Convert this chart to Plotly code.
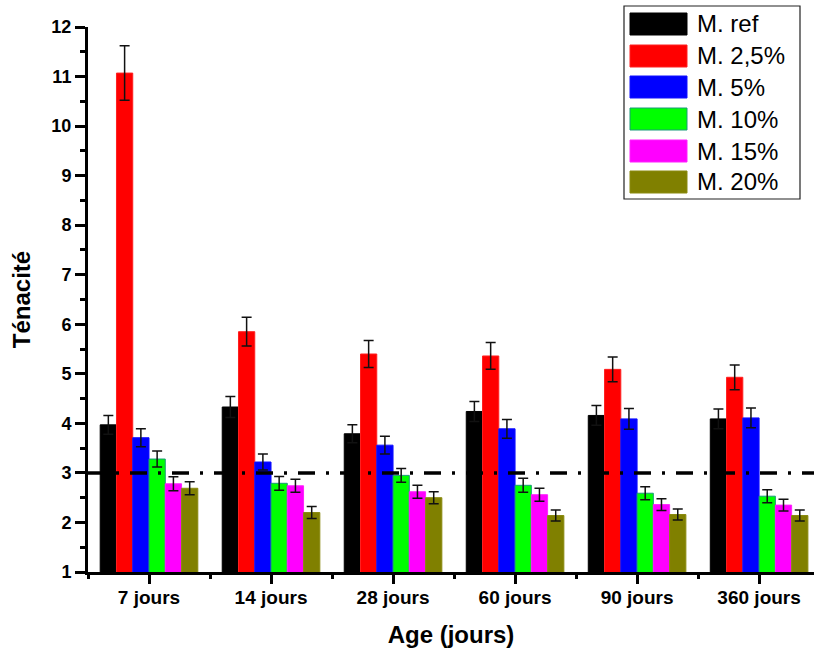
import plotly.graph_objects as go

# Ages (categories along x)
ages = ["7 jours", "14 jours", "28 jours", "60 jours", "90 jours", "360 jours"]

# Mixtures
series_names = ["M. ref", "M. 2,5%", "M. 5%", "M. 10%", "M. 15%", "M. 20%"]
series_colors = ["#000000", "#FF0000", "#0000FF", "#00FF00", "#FF00FF", "#808000"]
series_edges = ["#000000", "#FF2020", "#1010FF", "#1A9A7A", "#FF20FF", "#8A8A10"]

# Tenacity (mean) per mixture, one value per age
m_ref = [3.97, 4.33, 3.79, 4.24, 4.16, 4.09]
m_2_5 = [11.07, 5.85, 5.40, 5.36, 5.09, 4.93]
m_5 = [3.71, 3.22, 3.56, 3.89, 4.09, 4.11]
m_10 = [3.28, 2.79, 2.95, 2.75, 2.59, 2.53]
m_15 = [2.78, 2.74, 2.62, 2.56, 2.36, 2.35]
m_20 = [2.69, 2.20, 2.50, 2.14, 2.16, 2.14]

# Standard deviations
sd_ref = [0.19, 0.21, 0.18, 0.20, 0.20, 0.20]
sd_2_5 = [0.55, 0.29, 0.27, 0.27, 0.25, 0.25]
sd_5 = [0.18, 0.16, 0.18, 0.19, 0.21, 0.20]
sd_10 = [0.16, 0.14, 0.14, 0.14, 0.13, 0.13]
sd_15 = [0.14, 0.13, 0.13, 0.13, 0.12, 0.12]
sd_20 = [0.13, 0.12, 0.12, 0.11, 0.11, 0.11]

# Reference threshold
threshold = 3

y_ticks = list(range(1, 13))

means = [m_ref, m_2_5, m_5, m_10, m_15, m_20]
sds = [sd_ref, sd_2_5, sd_5, sd_10, sd_15, sd_20]
xpos = list(range(len(ages)))

FONT = "Arial, Liberation Sans, sans-serif"

fig = go.Figure()
for name, color, edge, vals, err in zip(series_names, series_colors, series_edges, means, sds):
    fig.add_trace(go.Bar(
        x=xpos, y=vals, name=name,
        marker=dict(color=color, line=dict(color=edge, width=1)),
        error_y=dict(type="data", array=err, visible=True,
                     color="#111111", thickness=1.5, width=5),
        showlegend=False,
    ))

# Dash-dot threshold line
fig.add_shape(type="line", xref="paper", yref="y", x0=0, x1=1,
              y0=threshold, y1=threshold,
              line=dict(color="black", width=3.5, dash="17px,11px,3px,11px"),
              layer="above")

# Plot-area geometry in pixels (used for the legend box)
W, H = 814, 657
L, R, T, B = 88, 0, 27, 85
pw, ph = W - L - R, H - T - B


def px(xp):
    return (xp - L) / pw


def py(yp):
    return (H - B - yp) / ph


# Legend drawn as a framed box with wide colour swatches
fig.add_shape(type="rect", xref="paper", yref="paper",
              x0=px(624), x1=px(800), y0=py(199), y1=py(6),
              line=dict(color="#222222", width=1.2), fillcolor="white",
              layer="above")
row_y = [24, 56, 87, 119, 151, 182]
for name, color, edge, ry in zip(series_names, series_colors, series_edges, row_y):
    fig.add_shape(type="rect", xref="paper", yref="paper",
                  x0=px(630), x1=px(687), y0=py(ry + 11), y1=py(ry - 11),
                  line=dict(color=edge, width=1), fillcolor=color, layer="above")
    fig.add_annotation(xref="paper", yref="paper", x=px(695), y=py(ry),
                       text=name, showarrow=False, xanchor="left", yanchor="middle",
                       font=dict(family=FONT, size=24, color="black"))

fig.update_layout(
    width=W, height=H,
    margin=dict(l=L, r=R, t=T, b=B),
    paper_bgcolor="white", plot_bgcolor="white",
    barmode="group", bargap=0.2, bargroupgap=0,
    font=dict(family=FONT, color="black"),
)

fig.update_xaxes(
    range=[-0.5, 5.45],
    tickvals=xpos, ticktext=["<b>%s</b>" % a for a in ages],
    tickfont=dict(family=FONT, size=19, color="black"),
    ticklabelstandoff=-3,
    showline=True, linecolor="black", linewidth=3, mirror=False,
    ticks="outside", ticklen=9, tickwidth=2.5, tickcolor="black",
    minor=dict(tickvals=[i + 0.5 for i in range(-1, len(ages))],
               ticks="outside", ticklen=4, tickwidth=2.5, tickcolor="black"),
    showgrid=False, zeroline=False,
    title=dict(text="<b>Age (jours)</b>", font=dict(family=FONT, size=24), standoff=20),
)

fig.update_yaxes(
    range=[1, 12],
    tickvals=y_ticks, ticktext=["<b>%d</b>" % v for v in y_ticks],
    tickfont=dict(family=FONT, size=18, color="black"),
    showline=True, linecolor="black", linewidth=3, mirror=False,
    ticks="outside", ticklen=10, tickwidth=2.5, tickcolor="black",
    minor=dict(tickvals=[v + 0.5 for v in y_ticks[:-1]],
               ticks="outside", ticklen=5, tickwidth=2.5, tickcolor="black"),
    showgrid=False, zeroline=False,
    title=dict(text="<b>Ténacité</b>", font=dict(family=FONT, size=24), standoff=14),
)

fig.write_html("out.html")
